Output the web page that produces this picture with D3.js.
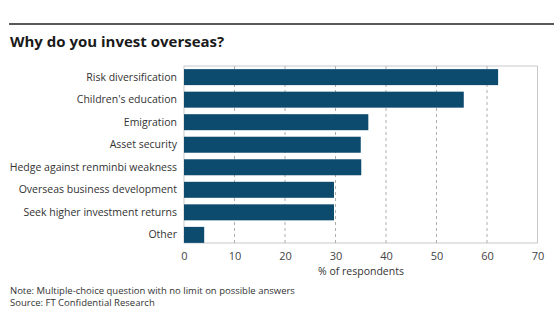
<!DOCTYPE html>
<html><head><meta charset="utf-8">
<script src="https://cdn.jsdelivr.net/npm/d3@7"></script>
<style>body{margin:0;background:#fff}svg{display:block}text{font-family:"Open Sans",sans-serif}</style>
</head><body>
<svg id="c" width="554" height="324"></svg>
<script>
const categories = ["Risk diversification","Children's education","Emigration","Asset security","Hedge against renminbi weakness","Overseas business development","Seek higher investment returns","Other"];
const values = [62.2, 55.4, 36.5, 35.0, 35.1, 29.7, 29.7, 4.0];
const xTicks = [0,10,20,30,40,50,60,70];
const title = "Why do you invest overseas?";
const xTitle = "% of respondents";
const notes = ["Note: Multiple-choice question with no limit on possible answers","Source: FT Confidential Research"];

const svg = d3.select("#c");
const L = 184, R = 537.5, T = 66, B = 243;
const x = d3.scaleLinear().domain([0,70]).range([L,R]);
const y = d3.scaleBand().domain(categories).range([T+2,B+1]).paddingInner(0.29).paddingOuter(0.05);

svg.append("line").attr("x1",9).attr("x2",554).attr("y1",24).attr("y2",24).attr("stroke","#222").attr("stroke-width",1.6);
svg.append("text").attr("x",10).attr("y",47).attr("font-size",15).attr("font-weight",700).attr("fill","#1a1a1a").text(title);

// grid
svg.append("g").selectAll("line").data(xTicks.filter(d=>d>0&&d<70)).join("line")
  .attr("x1",d=>x(d)).attr("x2",d=>x(d)).attr("y1",T).attr("y2",B)
  .attr("stroke","#999").attr("stroke-dasharray","3,3").attr("stroke-width",0.8);
svg.append("rect").attr("x",L).attr("y",T).attr("width",R-L).attr("height",B-T).attr("fill","none").attr("stroke","#bbb").attr("stroke-width",0.8);

svg.append("g").selectAll("rect").data(values).join("rect")
  .attr("x",x(0)).attr("y",(d,i)=>y(categories[i])).attr("width",d=>x(d)-x(0)).attr("height",y.bandwidth())
  .attr("fill","#0c4a6e");

const yAxis = d3.axisLeft(y).tickSize(0).tickPadding(7);
const gy = svg.append("g").attr("transform",`translate(${L},0)`).call(yAxis);
gy.select(".domain").remove();
gy.selectAll("text").attr("font-size",10.5).attr("fill","#333").style("font-family","'Open Sans',sans-serif");

const xAxis = d3.axisBottom(x).tickValues(xTicks).tickSize(0).tickPadding(9);
const gx = svg.append("g").attr("transform",`translate(0,${B})`).call(xAxis);
gx.select(".domain").remove();
gx.selectAll("text").attr("font-size",11).attr("fill","#444").style("font-family","'Open Sans',sans-serif");

svg.append("text").attr("x",361).attr("y",275).attr("text-anchor","middle").attr("font-size",10.5).attr("fill","#333").text(xTitle);
notes.forEach((n,i)=>svg.append("text").attr("x",10).attr("y",294+i*12).attr("font-size",9.5).attr("fill","#333").text(n));
</script>
</body></html>
